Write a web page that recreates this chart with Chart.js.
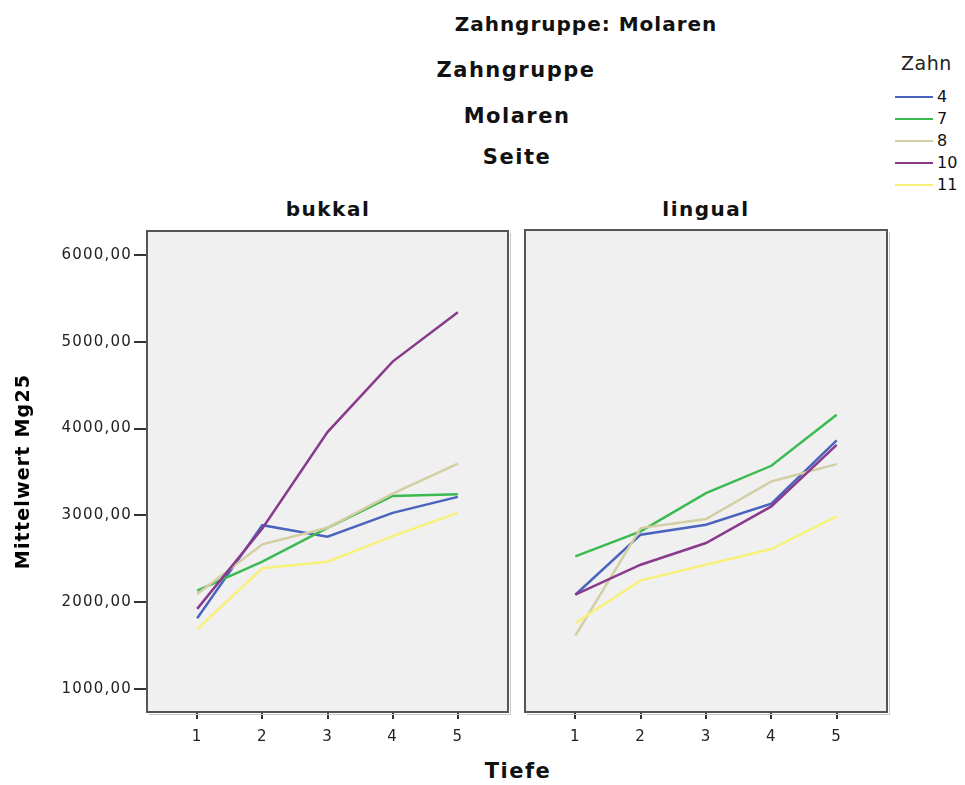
<!DOCTYPE html>
<html>
<head>
<meta charset="utf-8">
<title>Mittelwert Mg25 nach Tiefe</title>
<script src="https://cdn.jsdelivr.net/npm/chart.js@4"></script>
<style>
  body { margin: 0; background: #fff; width: 965px; height: 785px; position: relative; overflow: hidden;
         font-family: "DejaVu Sans", sans-serif; color: #111; }
  .t { position: absolute; transform: translate(-50%, -50%); white-space: nowrap; font-weight: bold; }
  .panel { position: absolute; top: 220px; height: 565px; }
  #legend { position: absolute; left: 895px; top: 0; }
  .item { position: absolute; left: 0; height: 20px; white-space: nowrap; }
  .item span.l { position: absolute; left: 0; top: 9px; width: 38px; height: 2px; }
  .item span.n { position: absolute; left: 42px; top: 0; font-size: 16px; line-height: 20px; color: #111; }
</style>
</head>
<body>

<div class="t" style="left:586px; top:24px; font-size:20px; letter-spacing:1px;">Zahngruppe: Molaren</div>
<div class="t" style="left:516px; top:70px; font-size:21px; letter-spacing:1.5px;">Zahngruppe</div>
<div class="t" style="left:517px; top:116px; font-size:21px; letter-spacing:1.5px;">Molaren</div>
<div class="t" style="left:517px; top:157px; font-size:21px; letter-spacing:1.5px;">Seite</div>
<div class="t" style="left:328px; top:209px; font-size:20px; letter-spacing:1.5px;">bukkal</div>
<div class="t" style="left:706px; top:209px; font-size:20px; letter-spacing:1.5px;">lingual</div>
<div class="t" style="left:518px; top:771px; font-size:21px; letter-spacing:1.5px;">Tiefe</div>

<div id="legend">
  <div style="position:absolute; left:6px; top:52px; font-size:19px; letter-spacing:0.5px; color:#222; white-space:nowrap;">Zahn</div>
</div>

<div class="panel" style="left:0; width:515px;"><canvas id="bukkalChart" width="515" height="565"></canvas></div>
<div class="panel" style="left:520px; width:445px;"><canvas id="lingualChart" width="445" height="565"></canvas></div>

<script>
const tiefe = [1, 2, 3, 4, 5];
const zahnLabels = ['4', '7', '8', '10', '11'];
const zahnColors = ['#4a64bd', '#3cba52', '#d4cea4', '#8a3a8c', '#f7f17c'];

// Mittelwert Mg25 je Zahn, Seite bukkal
const bukkal4  = [1815, 2887, 2753, 3029, 3213];
const bukkal7  = [2133, 2466, 2855, 3224, 3243];
const bukkal8  = [2095, 2666, 2857, 3251, 3596];
const bukkal10 = [1923, 2849, 3959, 4771, 5338];
const bukkal11 = [1689, 2390, 2466, 2761, 3029];

// Seite lingual
const lingual4  = [2083, 2773, 2887, 3129, 3856];
const lingual7  = [2524, 2811, 3251, 3565, 4151];
const lingual8  = [1613, 2849, 2953, 3385, 3584];
const lingual10 = [2083, 2428, 2677, 3098, 3806];
const lingual11 = [1758, 2248, 2428, 2608, 2983];

const yTicks = [1000, 2000, 3000, 4000, 5000, 6000];

const tickFont = { family: 'DejaVu Sans', size: 15 };

function makeDatasets(series) {
    return series.map((values, i) => ({
        label: zahnLabels[i],
        data: tiefe.map((x, j) => ({ x: x, y: values[j] })),
        borderColor: zahnColors[i],
        borderWidth: 2.5,
        pointRadius: 0,
        tension: 0,
        fill: false,
        order: series.length - i
    }));
}

// grey panel background and dark frame around the plot area
const panelFrame = {
    id: 'panelFrame',
    beforeDraw(chart) {
        const { ctx, chartArea: a } = chart;
        ctx.letterSpacing = '1.2px';
        ctx.save();
        ctx.fillStyle = '#f0f0f0';
        ctx.fillRect(a.left, a.top, a.right - a.left, a.bottom - a.top);
        ctx.restore();
    },
    afterDatasetsDraw(chart) {
        const { ctx, chartArea: a } = chart;
        ctx.save();
        ctx.strokeStyle = '#c8c8c8';
        ctx.lineWidth = 1;
        ctx.beginPath();
        ctx.moveTo(a.right + 2.5, a.top + 2);
        ctx.lineTo(a.right + 2.5, a.bottom + 2.5);
        ctx.lineTo(a.left + 2, a.bottom + 2.5);
        ctx.stroke();
        ctx.strokeStyle = '#555';
        ctx.lineWidth = 2;
        ctx.strokeRect(a.left, a.top, a.right - a.left, a.bottom - a.top);
        ctx.restore();
    }
};

function xScale() {
    return {
        type: 'linear',
        min: 0.23,
        max: 5.77,
        afterBuildTicks: s => { s.ticks = tiefe.map(v => ({ value: v })); },
        afterFit: s => { s.height = 73; },
        border: { display: false },
        grid: { drawOnChartArea: false, drawTicks: true, tickLength: 7, color: '#333', lineWidth: 2 },
        ticks: { color: '#222', font: tickFont, padding: 9, maxRotation: 0, callback: v => String(v) }
    };
}

function yScale(show) {
    return {
        type: 'linear',
        display: show,
        min: 735,
        max: 6275,
        afterBuildTicks: s => { s.ticks = yTicks.map(v => ({ value: v })); },
        afterFit: s => { s.width = show ? 147 : 0; },
        border: { display: false },
        grid: { drawOnChartArea: false, drawTicks: true, tickLength: 13, color: '#333', lineWidth: 2 },
        ticks: { color: '#222', font: tickFont, padding: 2, callback: v => v.toFixed(2).replace('.', ',') },
        title: {
            display: true,
            text: 'Mittelwert Mg25',
            color: '#000',
            font: { family: 'DejaVu Sans', size: 19, weight: 'bold' },
            padding: { top: 13, bottom: 0 }
        }
    };
}

function makeChart(id, series, showY, padding) {
    return new Chart(document.getElementById(id), {
        type: 'line',
        data: { datasets: makeDatasets(series) },
        options: {
            responsive: false,
            animation: false,
            layout: { padding: padding },
            plugins: { legend: { display: false }, tooltip: { enabled: false } },
            scales: { x: xScale(), y: yScale(showY) }
        },
        plugins: [panelFrame]
    });
}

makeChart('bukkalChart', [bukkal4, bukkal7, bukkal8, bukkal10, bukkal11], true,
    { top: 10, right: 7, left: 0, bottom: 0 });
makeChart('lingualChart', [lingual4, lingual7, lingual8, lingual10, lingual11], false,
    { top: 10, right: 78, left: 5, bottom: 0 });

// legend "Zahn"
const legend = document.getElementById('legend');
zahnLabels.forEach((name, i) => {
    const row = document.createElement('div');
    row.className = 'item';
    row.style.top = (87 + i * 22) + 'px';
    row.innerHTML = '<span class="l" style="background:' + zahnColors[i] + '"></span><span class="n">' + name + '</span>';
    legend.appendChild(row);
});
</script>
</body>
</html>
